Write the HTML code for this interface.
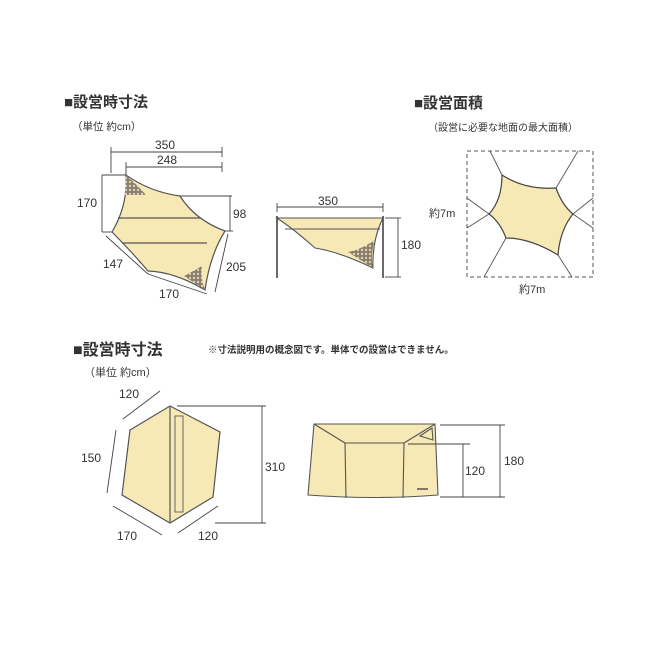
<!DOCTYPE html>
<html><head><meta charset="utf-8"><style>
html,body{margin:0;padding:0;background:#fff;}
svg{display:block;}
text{font-family:"Liberation Sans","Noto Sans CJK JP",sans-serif;fill:#333;}
</style></head><body>
<svg width="650" height="650" viewBox="0 0 650 650" xmlns="http://www.w3.org/2000/svg">
<defs>
<pattern id="mesh" width="4" height="4" patternUnits="userSpaceOnUse">
<rect width="4" height="4" fill="#8a7e6a"/><circle cx="2" cy="2" r="1.2" fill="#d8d0bc"/>
</pattern>
</defs>
<text x="64" y="107" font-size="15" font-weight="bold" fill="#222">■設営時寸法</text>
<text x="72" y="130" font-size="10.5">（単位 約cm）</text>
<text x="414" y="108" font-size="15" font-weight="bold" fill="#222">■設営面積</text>
<text x="428" y="131" font-size="10">（設営に必要な地面の最大面積）</text>
<text x="73" y="355" font-size="16" font-weight="bold" fill="#222">■設営時寸法</text>
<text x="208" y="353" font-size="9.5" font-weight="bold">※寸法説明用の概念図です。単体での設営はできません。</text>
<text x="84" y="376" font-size="11">（単位 約cm）</text>

<!-- Top-left tarp -->
<path d="M126,175 Q150,192 180,196 Q195,220 225,231 Q210,255 205,290 Q175,272 148,271 Q130,250 112,232 Q128,205 126,175 Z" fill="#f7e9b5" stroke="#555" stroke-width="1.2"/>
<path d="M126,175 Q140,188 146,195 L125,195 Z" fill="url(#mesh)"/>
<path d="M205,290 Q200,278 202,266 Q190,273 184,276 Z" fill="url(#mesh)"/>
<g stroke="#555" stroke-width="1.2">
<line x1="118" y1="218" x2="201" y2="218"/>
<line x1="122" y1="243" x2="207" y2="243"/>
</g>
<g stroke="#444" stroke-width="0.9" fill="none">
<line x1="111" y1="152" x2="222" y2="152"/><line x1="111" y1="147" x2="111" y2="173"/><line x1="222" y1="147" x2="222" y2="157"/>
<line x1="126" y1="167" x2="222" y2="167"/><line x1="126" y1="162" x2="126" y2="175"/><line x1="222" y1="162" x2="222" y2="172"/>
<line x1="102" y1="175" x2="102" y2="232"/><line x1="102" y1="175" x2="126" y2="175"/><line x1="102" y1="232" x2="112" y2="232"/>
<line x1="180" y1="196" x2="232" y2="196"/><line x1="230" y1="196" x2="230" y2="231"/><line x1="225" y1="231" x2="233" y2="231"/>
<line x1="106" y1="236" x2="148" y2="274"/>
<line x1="148" y1="274" x2="207" y2="294"/>
<line x1="228" y1="234" x2="215" y2="292"/>
</g>
<text x="155" y="149" font-size="12">350</text>
<text x="157" y="164" font-size="12">248</text>
<text x="77" y="207" font-size="12">170</text>
<text x="233" y="218" font-size="12">98</text>
<text x="103" y="268" font-size="12">147</text>
<text x="226" y="271" font-size="12">205</text>
<text x="159" y="298" font-size="12">170</text>

<!-- Top-middle -->
<path d="M277,218 L383,218 Q372,240 373,268 Q340,252 315,248 Q295,230 277,218 Z" fill="#f7e9b5" stroke="#555" stroke-width="1.1"/>
<path d="M373,268 Q370,255 375,240 Q360,250 348,252 Z" fill="url(#mesh)"/>
<line x1="285" y1="229" x2="380" y2="229" stroke="#555"/>
<g stroke="#444" stroke-width="1.6"><line x1="277" y1="216" x2="277" y2="278"/><line x1="383" y1="216" x2="383" y2="278"/></g>
<g stroke="#444" stroke-width="0.9">
<line x1="277" y1="207" x2="383" y2="207"/><line x1="277" y1="203" x2="277" y2="212"/><line x1="383" y1="203" x2="383" y2="212"/>
<line x1="398" y1="218" x2="398" y2="277"/><line x1="385" y1="218" x2="401" y2="218"/><line x1="385" y1="277" x2="401" y2="277"/>
</g>
<text x="318" y="205" font-size="12">350</text>
<text x="401" y="249" font-size="12">180</text>

<!-- Top-right -->
<rect x="467" y="151" width="126" height="126" fill="none" stroke="#555" stroke-dasharray="4,3"/>
<g stroke="#555" stroke-width="0.9">
<line x1="502" y1="175" x2="490" y2="151"/><line x1="556" y1="188" x2="578" y2="151"/>
<line x1="489" y1="214" x2="467" y2="198"/><line x1="489" y1="214" x2="467" y2="228"/>
<line x1="573" y1="214" x2="593" y2="198"/><line x1="573" y1="214" x2="593" y2="228"/>
<line x1="506" y1="238" x2="484" y2="277"/><line x1="558" y1="255" x2="572" y2="277"/>
</g>
<path d="M489,214 Q502,200 502,175 Q525,190 556,188 Q562,205 573,214 Q560,230 558,255 Q530,238 506,238 Q500,222 489,214 Z" fill="#f7e9b5" stroke="#444" stroke-width="1.2"/>
<text x="429" y="217" font-size="11">約7m</text>
<text x="519" y="293" font-size="11">約7m</text>

<!-- Bottom-left -->
<path d="M170,406 L220,432 L213,497 L170,523 L122,495 L130,430 Z" fill="#f7e9b5" stroke="#555" stroke-width="1.2"/>
<line x1="170" y1="406" x2="170" y2="523" stroke="#555" stroke-width="1.2"/>
<rect x="175" y="416" width="8" height="96" fill="none" stroke="#666"/>
<g stroke="#444" stroke-width="0.9">
<line x1="123" y1="419" x2="160" y2="391"/>
<line x1="116" y1="430" x2="107" y2="493"/>
<line x1="113" y1="506" x2="162" y2="535"/>
<line x1="178" y1="533" x2="218" y2="506"/>
<line x1="177" y1="406" x2="266" y2="406"/><line x1="262" y1="406" x2="262" y2="523"/><line x1="215" y1="523" x2="266" y2="523"/>
</g>
<text x="119" y="398" font-size="12">120</text>
<text x="81" y="462" font-size="12">150</text>
<text x="117" y="540" font-size="12">170</text>
<text x="198" y="540" font-size="12">120</text>
<text x="265" y="471" font-size="12">310</text>

<!-- Bottom-right -->
<path d="M314,424 L435,424 L438,495 Q375,500 308,495 Z" fill="#f7e9b5" stroke="#555" stroke-width="1.1"/>
<g stroke="#555" stroke-width="1.1">
<line x1="314" y1="424" x2="345" y2="443"/><line x1="435" y1="424" x2="404" y2="443"/>
<line x1="345" y1="443" x2="404" y2="443"/>
<line x1="345" y1="443" x2="346" y2="498"/><line x1="404" y1="443" x2="403" y2="498"/>
<path d="M420,436 L432,428 L433,440 Z" fill="none"/>
</g>
<line x1="417" y1="489" x2="428" y2="489" stroke="#555" stroke-width="1.5"/>
<g stroke="#444" stroke-width="0.9">
<line x1="408" y1="444" x2="470" y2="444"/><line x1="463" y1="444" x2="463" y2="497"/>
<line x1="440" y1="425" x2="505" y2="425"/><line x1="500" y1="425" x2="500" y2="497"/>
<line x1="440" y1="497" x2="505" y2="497"/>
</g>
<text x="465" y="475" font-size="12">120</text>
<text x="504" y="465" font-size="12">180</text>
</svg>
</body></html>
